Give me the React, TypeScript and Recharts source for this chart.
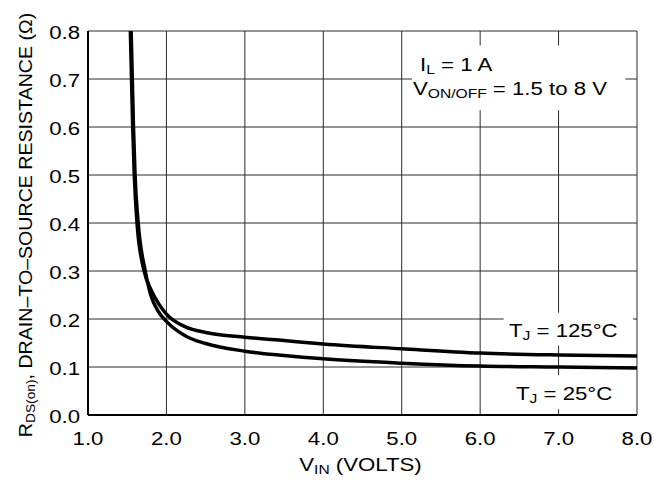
import React from 'react';
import { LineChart, Line, XAxis, YAxis, CartesianGrid, ReferenceArea, Label } from 'recharts';

const xTicks = [1, 2, 3, 4, 5, 6, 7, 8];
const yTicks = [0, 0.1, 0.2, 0.3, 0.4, 0.5, 0.6, 0.7, 0.8];

// T_J = 25°C
const vin25 = [1.55, 1.565, 1.58, 1.6, 1.64, 1.73, 1.8, 1.9, 2.0, 2.25, 2.5, 3.0, 3.5, 4.0, 5.0, 6.0, 7.0, 8.0];
const rds25 = [0.8, 0.7, 0.6, 0.5, 0.4, 0.3, 0.25, 0.215, 0.195, 0.164, 0.149, 0.133, 0.124, 0.117, 0.108, 0.102, 0.1, 0.098];

// T_J = 125°C
const vin125 = [1.54, 1.555, 1.57, 1.59, 1.625, 1.715, 1.8, 1.9, 2.0, 2.25, 2.5, 3.0, 3.5, 4.0, 5.0, 6.0, 7.0, 8.0];
const rds125 = [0.8, 0.7, 0.6, 0.5, 0.4, 0.3, 0.262, 0.232, 0.21, 0.183, 0.172, 0.162, 0.155, 0.148, 0.138, 0.129, 0.125, 0.123];

const data25 = vin25.map((v, i) => ({ v, r: rds25[i] }));
const data125 = vin125.map((v, i) => ({ v, r: rds125[i] }));

const FONT = '"Liberation Sans", Arial, Helvetica, sans-serif';
const FS = 18.5;
const SUB = 13;
const SX = 1.2; // the original type is set wider than Arial

const XTick = (props: any) => {
  const { x, y, payload } = props;
  return (
    <text transform={`translate(${x},${y + 22}) scale(${SX},1)`} textAnchor="middle" fontFamily={FONT} fontSize={FS} fill="#000">
      {Number(payload.value).toFixed(1)}
    </text>
  );
};

const YTick = (props: any) => {
  const { x, y, payload } = props;
  return (
    <text transform={`translate(${x},${y + 8}) scale(${SX},1)`} textAnchor="end" fontFamily={FONT} fontSize={FS} fill="#000">
      {Number(payload.value).toFixed(1)}
    </text>
  );
};

const XTitle = (props: any) => {
  const vb = props.viewBox || {};
  const cx = vb.x + vb.width / 2;
  return (
    <text transform={`translate(${cx - 2},471) scale(${SX},1)`} textAnchor="middle" fontFamily={FONT} fontSize={FS} fill="#000">
      V<tspan fontSize={SUB} dy={3}>IN</tspan><tspan dy={-3}> (VOLTS)</tspan>
    </text>
  );
};

const YTitle = (props: any) => {
  const vb = props.viewBox || {};
  const cy = vb.y + vb.height / 2;
  return (
    <text transform={`translate(32,${cy + 2}) rotate(-90) scale(1.06,1)`} textAnchor="middle" fontFamily={FONT} fontSize={FS} fill="#000">
      R<tspan fontSize={SUB} dy={3}>DS(on)</tspan><tspan dy={-3}>, DRAIN–TO–SOURCE RESISTANCE (Ω)</tspan>
    </text>
  );
};

const Note = ({ x, y, main, sub, rest }: { x: number; y: number; main: string; sub: string; rest: string }) => (
  <text transform={`translate(${x},${y}) scale(${SX},1)`} fontFamily={FONT} fontSize={FS} fill="#000">
    {main}<tspan fontSize={SUB} dy={3}>{sub}</tspan><tspan dy={-3}>{rest}</tspan>
  </text>
);

export default function App() {
  return (
    <div style={{ position: 'absolute', left: 0, top: 0, width: 654, height: 484, background: '#fff' }}>
      <LineChart width={654} height={484} margin={{ top: 31, right: 17, bottom: 39, left: 0 }}>
        <CartesianGrid stroke="#2a2a2a" strokeWidth={1} />
        <ReferenceArea x1={5.13} x2={7.85} y1={0.635} y2={0.77} fill="#fff" fillOpacity={1} stroke="none" />
        <ReferenceArea x1={6.3} x2={7.95} y1={0.145} y2={0.213} fill="#fff" fillOpacity={1} stroke="none" />
        <ReferenceArea x1={6.4} x2={7.95} y1={0.012} y2={0.083} fill="#fff" fillOpacity={1} stroke="none" />
        <XAxis
          type="number"
          dataKey="v"
          domain={[1, 8]}
          ticks={xTicks}
          allowDataOverflow
          height={30}
          tickLine={false}
          axisLine={{ stroke: '#000', strokeWidth: 2 }}
          tick={XTick}
        >
          <Label content={XTitle} />
        </XAxis>
        <YAxis
          type="number"
          domain={[0, 0.8]}
          ticks={yTicks}
          allowDataOverflow
          width={88}
          tickLine={false}
          axisLine={{ stroke: '#000', strokeWidth: 2 }}
          tick={YTick}
        >
          <Label content={YTitle} />
        </YAxis>
        <Line data={data125} dataKey="r" type="monotone" stroke="#000" strokeWidth={3.5} dot={false} isAnimationActive={false} />
        <Line data={data25} dataKey="r" type="monotone" stroke="#000" strokeWidth={3.5} dot={false} isAnimationActive={false} />
      </LineChart>
      <svg width={654} height={484} style={{ position: 'absolute', left: 0, top: 0, pointerEvents: 'none' }}>
        <Note x={420} y={71} main="I" sub="L" rest=" = 1 A" />
        <Note x={413} y={95} main="V" sub="ON/OFF" rest=" = 1.5 to 8 V" />
        <Note x={509} y={337} main="T" sub="J" rest=" = 125°C" />
        <Note x={516} y={400} main="T" sub="J" rest=" = 25°C" />
      </svg>
    </div>
  );
}
